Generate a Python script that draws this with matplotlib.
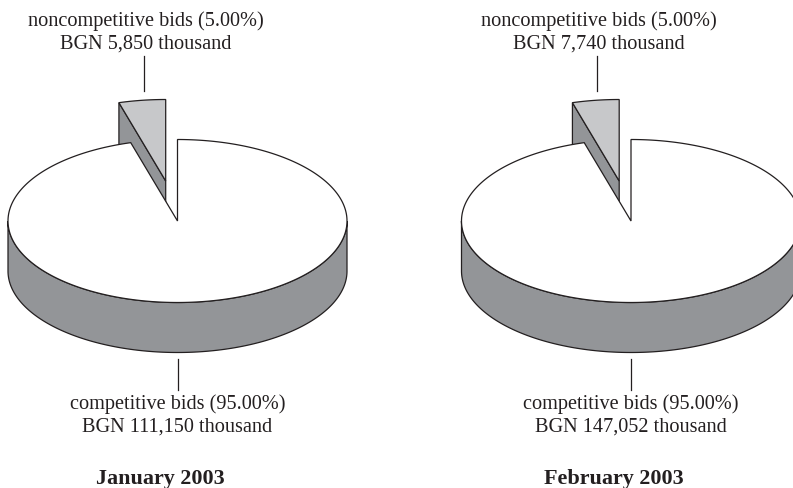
import matplotlib
matplotlib.use('Agg')
import matplotlib.pyplot as plt
from matplotlib.patches import Polygon
import numpy as np

plt.rcParams['font.family'] = ['Liberation Serif', 'DejaVu Serif']

# data
months = ['January 2003', 'February 2003']
share_noncomp = [5.00, 5.00]
share_comp = [95.00, 95.00]
bgn_noncomp = ['5,850', '7,740']
bgn_comp = ['111,150', '147,052']

WIDTH, HEIGHT = 793, 489
RX, RY, DEPTH = 169.5, 81.5, 50
CY = 222
SQUEEZE = 0.89  # the 3d view makes the small slice a bit narrower
SIDE = '#939598'
SLICE = '#c7c8ca'
INK = '#231f20'
LW = 0.9
FS = 14.6
FS_TITLE = 15.9


def arc(cx, cy, t0, t1, n=200):
    # t is measured clockwise from the top of the ellipse
    t = np.radians(np.linspace(t0, t1, n))
    return np.column_stack([cx + RX * np.sin(t), cy - RY * np.cos(t)])


def draw_pie(ax, cx, share_small, share_big, title, small_txt, big_txt):
    sweep = 360 * share_small / 100 * SQUEEZE
    big_sweep = 360 * (share_small + share_big) / 100 - sweep

    # pulled out slice
    sx, sy = cx - 11.8, CY - 40
    edge = arc(sx, sy, -sweep, 0, 40)
    wall = [edge[0], (sx, sy), (sx, sy + DEPTH), edge[0] + (0, DEPTH)]
    ax.add_patch(Polygon(wall, fc=SIDE, ec=INK, lw=LW, zorder=2))
    ax.add_patch(Polygon(np.vstack([[(sx, sy)], edge]), fc=SLICE, ec=INK, lw=LW, zorder=3))

    # side of the main pie
    front = arc(cx, CY, 90, 270)
    side = np.vstack([front, (front + (0, DEPTH))[::-1]])
    ax.add_patch(Polygon(side, fc=SIDE, ec=INK, lw=LW, zorder=4))

    # top of the main pie
    top = arc(cx, CY, 0, big_sweep, 400)
    ax.add_patch(Polygon(np.vstack([[(cx, CY)], top]), fc='white', ec=INK, lw=LW, zorder=5))

    # leader lines and labels
    ax.plot([cx - 34, cx - 34], [57, 92], color=INK, lw=LW, zorder=6)
    ax.plot([cx, cx], [360, 391], color=INK, lw=LW, zorder=6)
    ax.text(cx - 32, 26, small_txt[0], ha='center', va='baseline', fontsize=FS, color=INK)
    ax.text(cx - 32, 49, small_txt[1], ha='center', va='baseline', fontsize=FS, color=INK)
    ax.text(cx, 409, big_txt[0], ha='center', va='baseline', fontsize=FS, color=INK)
    ax.text(cx, 432, big_txt[1], ha='center', va='baseline', fontsize=FS, color=INK)
    ax.text(cx - 17, 484, title, ha='center', va='baseline', fontsize=FS_TITLE, fontweight='bold', color=INK)


fig = plt.figure(figsize=(WIDTH / 100, HEIGHT / 100), dpi=100)
ax = fig.add_axes([0, 0, 1, 1])
ax.set_xlim(0, WIDTH)
ax.set_ylim(HEIGHT, 0)
ax.axis('off')

centers = [177.5, 631]
for i in range(2):
    small_txt = [f'noncompetitive bids ({share_noncomp[i]:.2f}%)', f'BGN {bgn_noncomp[i]} thousand']
    big_txt = [f'competitive bids ({share_comp[i]:.2f}%)', f'BGN {bgn_comp[i]} thousand']
    draw_pie(ax, centers[i], share_noncomp[i], share_comp[i], months[i], small_txt, big_txt)

fig.savefig('out.png', dpi=100)
